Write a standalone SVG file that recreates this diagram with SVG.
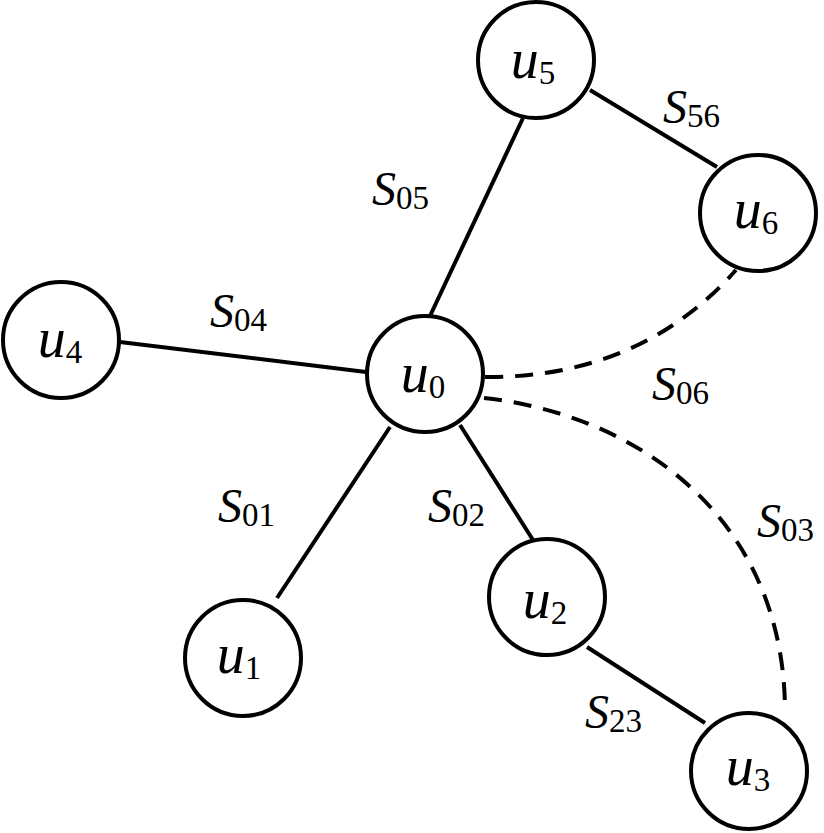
<svg xmlns="http://www.w3.org/2000/svg" width="824" height="833" viewBox="0 0 824 833">
<style>
.node{fill:#fff;stroke:#000;stroke-width:4}
.e{stroke:#000;stroke-width:4;fill:none;stroke-linecap:butt}
.d{stroke:#000;stroke-width:4;fill:none;stroke-dasharray:18 12}
.it{font-style:italic}
.u{font-size:56px;text-anchor:middle}
.s{font-size:48px}
.sub{font-size:33px;font-style:normal}
</style>
<rect width="824" height="833" fill="#fff"/>
<g id="connectors">
<line class="e" x1="430" y1="316" x2="523" y2="118"/>
<line class="e" x1="590" y1="90" x2="717" y2="167"/>
<line class="e" x1="120" y1="342" x2="366" y2="372"/>
<line class="e" x1="390" y1="427" x2="277" y2="598"/>
<line class="e" x1="460" y1="425" x2="533" y2="540"/>
<line class="e" x1="587" y1="647" x2="705" y2="723"/>
<path class="d" d="M485,377 Q640,378 736,270"/>
<path class="d" d="M484,398 C640,415 785,520 785,712"/>
</g>
<g id="labels" font-family="Liberation Serif, DejaVu Serif, serif" fill="#000">
<g id="edge-labels">
<text class="s it" x="372" y="205">S<tspan class="sub" dy="4">05</tspan></text>
<text class="s it" x="210" y="327">S<tspan class="sub" dy="4">04</tspan></text>
<text class="s it" x="663" y="123">S<tspan class="sub" dy="4">56</tspan></text>
<text class="s it" x="652" y="400">S<tspan class="sub" dy="4">06</tspan></text>
<text class="s it" x="757" y="537">S<tspan class="sub" dy="4">03</tspan></text>
<text class="s it" x="218" y="522">S<tspan class="sub" dy="4">01</tspan></text>
<text class="s it" x="428" y="522">S<tspan class="sub" dy="4">02</tspan></text>
<text class="s it" x="585" y="728">S<tspan class="sub" dy="4">23</tspan></text>
</g>
</g>
<g font-family="Liberation Serif, DejaVu Serif, serif" fill="#000">
<g id="u0"><circle class="node" cx="425" cy="374" r="58"/><text class="u it" x="423" y="392">u<tspan class="sub" dy="6">0</tspan></text></g>
<g id="u5"><circle class="node" cx="536" cy="60" r="58"/><text class="u it" x="533" y="78">u<tspan class="sub" dy="6">5</tspan></text></g>
<g id="u6"><circle class="node" cx="758" cy="213" r="58"/><text class="u it" x="756" y="228">u<tspan class="sub" dy="6">6</tspan></text></g>
<g id="u4"><circle class="node" cx="61" cy="340" r="58"/><text class="u it" x="60" y="357">u<tspan class="sub" dy="6">4</tspan></text></g>
<g id="u1"><circle class="node" cx="243" cy="658" r="58"/><text class="u it" x="239" y="673">u<tspan class="sub" dy="6">1</tspan></text></g>
<g id="u2"><circle class="node" cx="547" cy="597" r="58"/><text class="u it" x="545" y="618">u<tspan class="sub" dy="6">2</tspan></text></g>
<g id="u3"><circle class="node" cx="749" cy="771" r="58"/><text class="u it" x="748" y="785">u<tspan class="sub" dy="6">3</tspan></text></g>
</g>
</svg>
